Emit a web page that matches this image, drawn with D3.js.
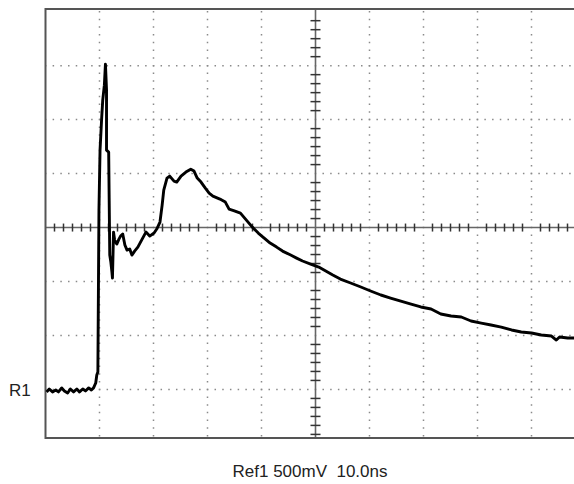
<!DOCTYPE html>
<html>
<head>
<meta charset="utf-8">
<script src="https://cdn.jsdelivr.net/npm/d3@7"></script>
<style>
  body { margin: 0; background: #fff; }
  text { font-family: "Liberation Sans", Arial, sans-serif; }
</style>
</head>
<body>
<div id="scope"></div>
<script>
// Ref1 trace, 10 ns/div, 500 mV/div (center of screen = 0)
const timeNs = [-49.8,-49.3,-48.7,-48.1,-47.6,-47.0,-46.5,-45.9,-45.4,-44.8,-44.2,-43.7,-43.1,-42.6,-42.0,-41.5,-41.1,-40.7,-40.5,-40.3,
  -40.2,-40.1,-39.9,-39.6,-39.4,-39.1,-38.9,-38.7,-38.7,-38.3,-38.1,-37.9,-37.7,-37.6,-37.4,-37.2,-36.8,-36.4,-36.1,-35.7,
  -35.3,-34.9,-34.4,-34.0,-33.5,-32.9,-32.2,-31.4,-30.7,-29.9,-29.4,-28.8,-28.4,-28.1,-27.5,-27.0,-26.2,-25.7,-24.9,-24.0,
  -23.1,-22.5,-21.9,-21.2,-20.4,-19.7,-19.0,-17.7,-16.7,-16.0,-14.9,-13.9,-12.8,-11.7,-10.6,-9.5,-8.4,-7.2,-6.1,-4.6,
  -3.5,-2.4,-0.9,0.6,1.9,3.2,4.6,6.5,8.4,10.2,12.1,13.9,15.8,17.7,19.5,21.4,23.2,25.1,27.0,28.8,
  30.7,32.5,34.4,36.3,38.1,40.0,41.8,43.7,44.6,45.2,46.7,48.2];
const voltMv = [-1523,-1496,-1523,-1505,-1523,-1486,-1514,-1533,-1496,-1523,-1496,-1523,-1496,-1514,-1486,-1505,-1486,-1440,-1366,-1338,
  -579,162,717,1013,1180,1319,1514,1273,717,699,-255,-320,-412,-468,-42,-116,-153,-107,-79,-60,
  -162,-209,-199,-255,-218,-181,-116,-42,-79,-51,-14,51,208,347,458,477,430,421,477,514,
  541,523,458,421,365,319,291,264,236,171,153,134,69,4,-51,-97,-144,-181,-218,-255,
  -283,-310,-338,-366,-403,-440,-477,-514,-551,-588,-625,-653,-681,-709,-736,-755,-801,-820,-829,-866,
  -885,-903,-922,-949,-968,-977,-996,-1005,-1042,-1014,-1023,-1023];

const nsPerDiv = 10, mvPerDiv = 500;
const xDivs = [-4,-3,-2,-1,1,2,3,4];
const yDivs = [-3,-2,-1,1,2,3];
const refLevel = -1500;
const label = "Ref1 500mV  10.0ns";

const W = 574, H = 484;
const svg = d3.select("#scope").append("svg")
  .attr("width", W).attr("height", H);

const x = d3.scaleLinear().domain([-50, 50]).range([45.5, 585.5]);
const y = d3.scaleLinear().domain([-1950, 2025]).range([438, 9]);

const x0 = x.range()[0], yTop = y.range()[1], yBot = y.range()[0];

// dotted graticule
const dot = (54 / 7 - 1.5).toFixed(2);
function dotted(sel) {
  sel.attr("stroke", "#8a8a8a").attr("stroke-width", 1.5)
    .attr("stroke-dasharray", "1.5," + dot).attr("stroke-dashoffset", 0.75);
}
svg.append("g").selectAll("line").data(xDivs).join("line")
  .attr("x1", d => x(d * nsPerDiv)).attr("x2", d => x(d * nsPerDiv))
  .attr("y1", y(0)).attr("y2", yTop).call(dotted);
svg.append("g").selectAll("line").data(xDivs).join("line")
  .attr("x1", d => x(d * nsPerDiv)).attr("x2", d => x(d * nsPerDiv))
  .attr("y1", y(0)).attr("y2", yBot).call(dotted);
svg.append("g").selectAll("line").data(yDivs).join("line")
  .attr("x1", x(0)).attr("x2", x0)
  .attr("y1", d => y(d * mvPerDiv)).attr("y2", d => y(d * mvPerDiv)).call(dotted);
svg.append("g").selectAll("line").data(yDivs).join("line")
  .attr("x1", x(0)).attr("x2", W)
  .attr("y1", d => y(d * mvPerDiv)).attr("y2", d => y(d * mvPerDiv)).call(dotted);

// center axes with minor ticks (6 per division)
svg.append("line")
  .attr("x1", x0).attr("x2", W).attr("y1", y(0)).attr("y2", y(0))
  .attr("stroke", "#666").attr("stroke-width", 1.6);
svg.append("line")
  .attr("x1", x(0)).attr("x2", x(0)).attr("y1", yTop).attr("y2", yBot)
  .attr("stroke", "#666").attr("stroke-width", 1.6);

const xMinor = d3.range(-30, 31).filter(k => k % 6 !== 0).map(k => k * nsPerDiv / 6);
const yMinor = d3.range(-24, 25).filter(k => k % 6 !== 0).map(k => k * mvPerDiv / 6)
  .filter(v => y(v) > yTop && y(v) < yBot);
svg.append("g").selectAll("line").data(xMinor).join("line")
  .attr("x1", d => x(d)).attr("x2", d => x(d))
  .attr("y1", y(0) - 4).attr("y2", y(0) + 4)
  .attr("stroke", "#333").attr("stroke-width", 1.5);
svg.append("g").selectAll("line").data(yMinor).join("line")
  .attr("x1", x(0) - 5).attr("x2", x(0) + 5)
  .attr("y1", d => y(d)).attr("y2", d => y(d))
  .attr("stroke", "#333").attr("stroke-width", 1.5);

// frame (right side is cut off)
svg.append("path")
  .attr("d", `M${W},${yTop}H${x0}V${yBot}H${W}`)
  .attr("fill", "none").attr("stroke", "#555").attr("stroke-width", 2);

// trace
const pts = timeNs.map((t, i) => [t, voltMv[i]]);
svg.append("path")
  .datum(pts)
  .attr("d", d3.line().x(d => x(d[0])).y(d => y(d[1])))
  .attr("fill", "none").attr("stroke", "#000")
  .attr("stroke-width", 2.9).attr("stroke-linejoin", "round");

// labels
svg.append("text")
  .attr("x", 9).attr("y", y(refLevel) + 7)
  .attr("font-size", 17).attr("fill", "#222")
  .text("R1");
svg.append("text")
  .attr("x", 310).attr("y", 477)
  .attr("text-anchor", "middle").attr("font-size", 17).attr("fill", "#222")
  .style("white-space", "pre")
  .text(label);
</script>
</body>
</html>
